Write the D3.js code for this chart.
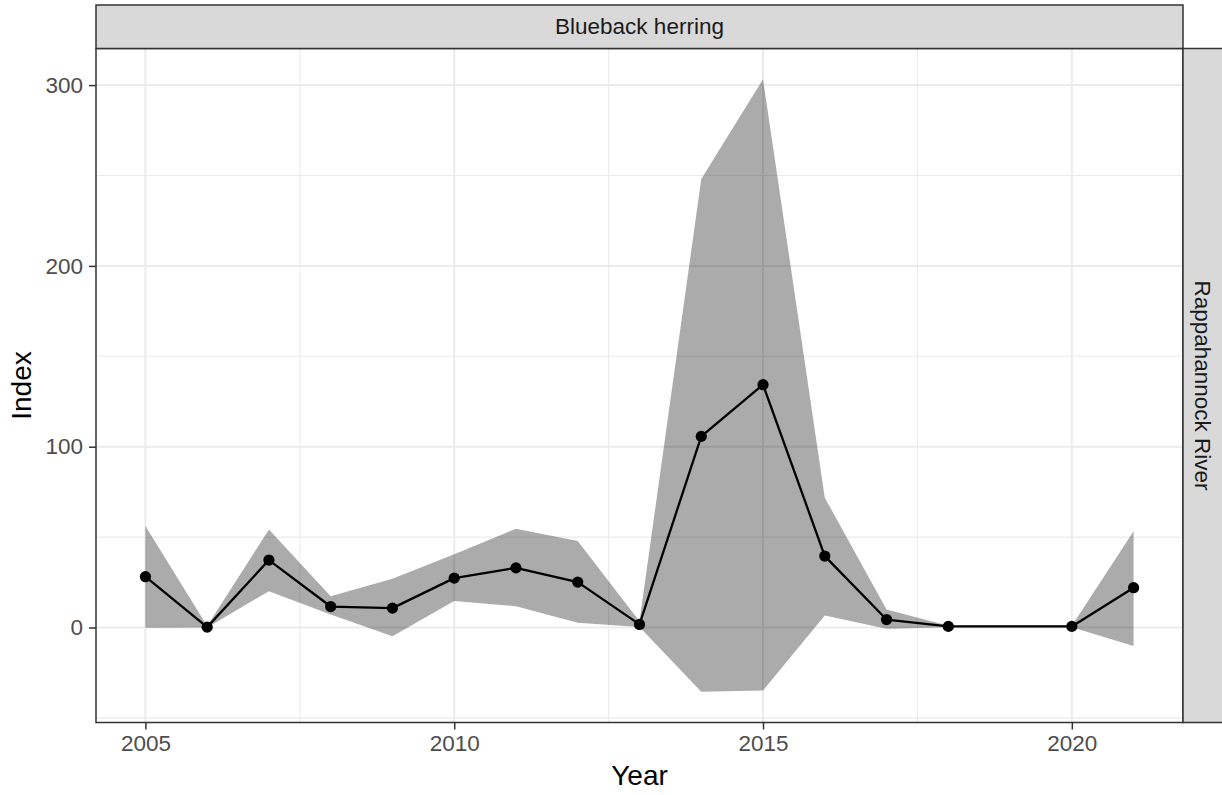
<!DOCTYPE html>
<html>
<head>
<meta charset="utf-8">
<script src="https://cdn.jsdelivr.net/npm/d3@7"></script>
<style>
  html, body { margin: 0; padding: 0; background: #fff; }
  svg { display: block; font-family: "Liberation Sans", Arial, sans-serif; }
</style>
</head>
<body>
<svg id="chart" width="1222" height="795"></svg>
<script>
// ---- data ----
const years  = [2005, 2006, 2007, 2008, 2009, 2010, 2011, 2012, 2013, 2014, 2015, 2016, 2017, 2018, 2020, 2021];
const index  = [28.1, 0.2, 37.3, 11.6, 10.7, 27.3, 33.0, 25.1, 1.7, 105.7, 134.3, 39.5, 4.4, 0.6, 0.6, 22.0];
const upper  = [56.1, 0.8, 54.2, 17.3, 27.0, 40.5, 54.6, 47.8, 3.5, 248.0, 303.3, 71.8, 10.0, 1.0, 1.0, 53.3];
const lower  = [-0.2, 0.0, 20.1, 7.2, -4.8, 14.6, 11.8, 2.6, 0.3, -35.6, -34.9, 6.6, -0.7, 0.2, 0.2, -10.3];
const xTicks = [2005, 2010, 2015, 2020];
const yTicks = [0, 100, 200, 300];
const xMinor = [2007.5, 2012.5, 2017.5];
const yMinor = [-50, 50, 150, 250];
const stripTop = "Blueback herring";
const stripRight = "Rappahannock River";
const xTitle = "Year";
const yTitle = "Index";

const data = years.map((y, i) => ({ year: y, index: index[i], upper: upper[i], lower: lower[i] }));

// ---- layout ----
const svg = d3.select("#chart");
const P = { left: 96, right: 1183, top: 48.5, bottom: 722.5 };

const xExt = d3.extent(years);
const xPad = (xExt[1] - xExt[0]) * 0.05;
const yMin = d3.min(lower), yMax = d3.max(upper);
const yPad = (yMax - yMin) * 0.05;

const x = d3.scaleLinear().domain([xExt[0] - xPad, xExt[1] + xPad]).range([P.left, P.right]);
const y = d3.scaleLinear().domain([yMin - yPad, yMax + yPad]).range([P.bottom, P.top]);

// panel background
svg.append("rect").attr("x", P.left).attr("y", P.top)
  .attr("width", P.right - P.left).attr("height", P.bottom - P.top).attr("fill", "#fff");

const clip = svg.append("defs").append("clipPath").attr("id", "pclip")
  .append("rect").attr("x", P.left).attr("y", P.top)
  .attr("width", P.right - P.left).attr("height", P.bottom - P.top);

const g = svg.append("g").attr("clip-path", "url(#pclip)");

// minor grid
g.selectAll(".xminor").data(xMinor).join("line")
  .attr("x1", d => x(d)).attr("x2", d => x(d)).attr("y1", P.top).attr("y2", P.bottom)
  .attr("stroke", "#ebebeb").attr("stroke-width", 1.1);
g.selectAll(".yminor").data(yMinor).join("line")
  .attr("y1", d => y(d)).attr("y2", d => y(d)).attr("x1", P.left).attr("x2", P.right)
  .attr("stroke", "#ebebeb").attr("stroke-width", 1.1);
// major grid
g.selectAll(".xmajor").data(xTicks).join("line")
  .attr("x1", d => x(d)).attr("x2", d => x(d)).attr("y1", P.top).attr("y2", P.bottom)
  .attr("stroke", "#ebebeb").attr("stroke-width", 2);
g.selectAll(".ymajor").data(yTicks).join("line")
  .attr("y1", d => y(d)).attr("y2", d => y(d)).attr("x1", P.left).attr("x2", P.right)
  .attr("stroke", "#ebebeb").attr("stroke-width", 2);

// ribbon
const area = d3.area().x(d => x(d.year)).y0(d => y(d.lower)).y1(d => y(d.upper));
g.append("path").datum(data).attr("d", area).attr("fill", "#000").attr("fill-opacity", 0.33);

// line
const line = d3.line().x(d => x(d.year)).y(d => y(d.index));
g.append("path").datum(data).attr("d", line).attr("fill", "none")
  .attr("stroke", "#000").attr("stroke-width", 2.3).attr("stroke-linejoin", "round");

// points
g.selectAll("circle").data(data).join("circle")
  .attr("cx", d => x(d.year)).attr("cy", d => y(d.index)).attr("r", 5.6).attr("fill", "#000");

// panel border
svg.append("rect").attr("x", P.left).attr("y", P.top)
  .attr("width", P.right - P.left).attr("height", P.bottom - P.top)
  .attr("fill", "none").attr("stroke", "#333").attr("stroke-width", 1.5);

// axes
const axFont = 22.5;
const xAxis = svg.append("g").attr("transform", `translate(0,${P.bottom})`)
  .call(d3.axisBottom(x).tickValues(xTicks).tickFormat(d3.format("d")).tickSize(7).tickPadding(6));
const yAxis = svg.append("g").attr("transform", `translate(${P.left},0)`)
  .call(d3.axisLeft(y).tickValues(yTicks).tickFormat(d3.format("d")).tickSize(7).tickPadding(6));
[xAxis, yAxis].forEach(a => {
  a.select(".domain").remove();
  a.selectAll(".tick line").attr("stroke", "#333").attr("stroke-width", 1.5);
  a.selectAll(".tick text").attr("fill", "#4d4d4d").style("font-size", axFont + "px")
    .style("font-family", '"Liberation Sans", Arial, sans-serif');
});

// strips
svg.append("rect").attr("x", P.left).attr("y", 5).attr("width", P.right - P.left).attr("height", P.top - 5)
  .attr("fill", "#d9d9d9").attr("stroke", "#333").attr("stroke-width", 1.5);
svg.append("text").attr("x", (P.left + P.right) / 2).attr("y", (5 + P.top) / 2)
  .attr("text-anchor", "middle").attr("dominant-baseline", "central")
  .attr("fill", "#1a1a1a").style("font-size", axFont + "px").text(stripTop);

svg.append("rect").attr("x", P.right).attr("y", P.top).attr("width", 40).attr("height", P.bottom - P.top)
  .attr("fill", "#d9d9d9").attr("stroke", "#333").attr("stroke-width", 1.5);
svg.append("text")
  .attr("transform", `translate(${P.right + 19},${(P.top + P.bottom) / 2}) rotate(90)`)
  .attr("text-anchor", "middle").attr("dominant-baseline", "central")
  .attr("fill", "#1a1a1a").style("font-size", axFont + "px").text(stripRight);

// axis titles
svg.append("text").attr("x", (P.left + P.right) / 2).attr("y", 785)
  .attr("text-anchor", "middle").attr("fill", "#000").style("font-size", "28px").text(xTitle);
svg.append("text")
  .attr("transform", `translate(31,${(P.top + P.bottom) / 2}) rotate(-90)`)
  .attr("text-anchor", "middle").attr("fill", "#000").style("font-size", "28px").text(yTitle);
</script>
</body>
</html>
